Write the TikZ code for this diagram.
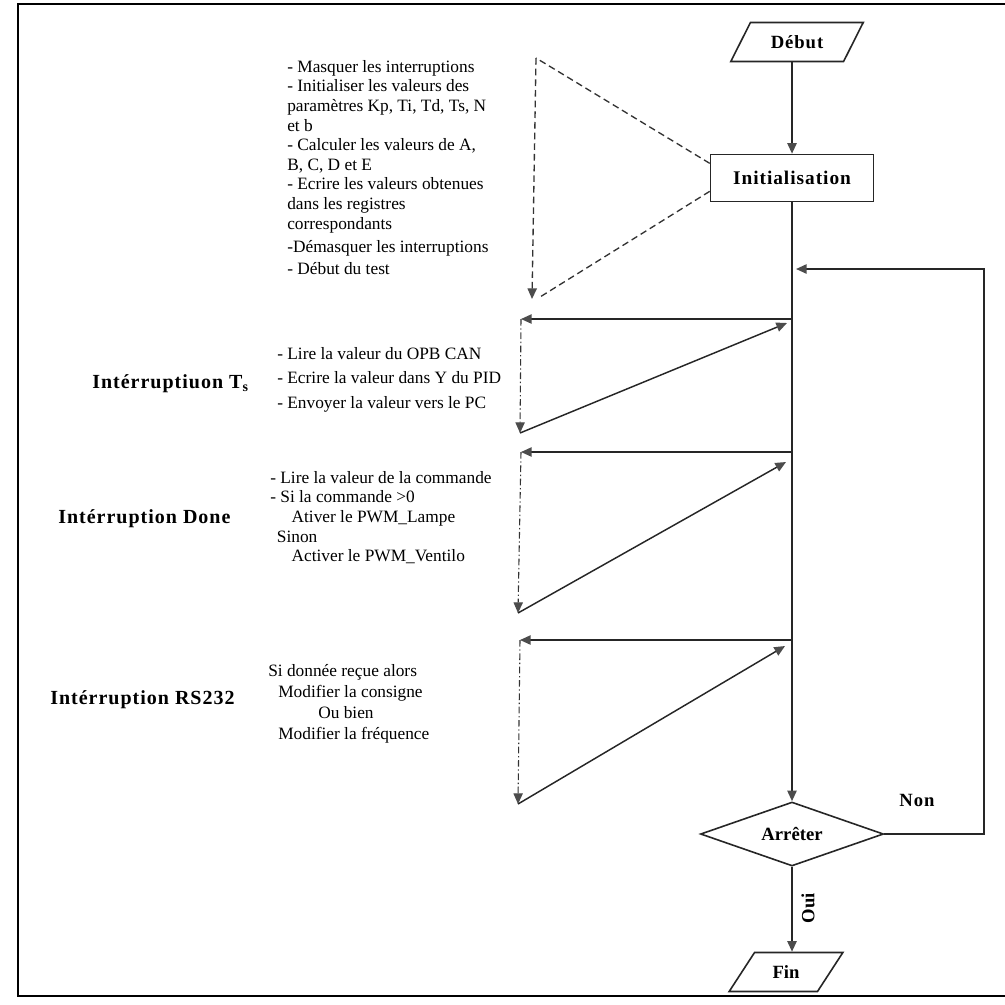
\documentclass[tikz,border=0pt]{standalone}
\usepackage{fontspec}
\setmainfont{Liberation Serif}
\newfontfamily\wideserif[LetterSpace=5]{Liberation Serif}
\usetikzlibrary{arrows.meta,shapes.geometric}
\begin{document}
\begin{tikzpicture}[x=0.75pt,y=-0.75pt,
  line/.style={line width=1.3pt, draw=black!85},
  thin/.style={line width=1.1pt, draw=black!85},
  tip/.style={-{Triangle[length=8pt,width=7pt,fill=black!70,color=black!70]}},
  calloutdash/.style={line width=1pt, draw=black!80, dash pattern=on 5pt off 3pt},
  dashdotline/.style={line width=0.8pt, draw=black!80, dash pattern=on 5pt off 2pt on 1pt off 2pt},
  io/.style={trapezium, trapezium left angle=50, trapezium right angle=130,
    trapezium stretches=true, draw=black!85, line width=1.2pt, inner sep=0pt,
    font=\fontsize{14}{16}\selectfont\bfseries},
  stepbox/.style={rectangle, draw=black!85, line width=1.2pt, inner sep=0pt,
    minimum width=122.25pt, minimum height=35.25pt,
    font=\wideserif\fontsize{14.5}{16}\selectfont\bfseries},
  decision/.style={diamond, draw=black!85, line width=1.2pt, inner sep=0pt, aspect=2.86,
    minimum width=137.25pt, minimum height=48pt, font=\fontsize{14}{16}\selectfont\bfseries},
  txt/.style={align=left, inner sep=0pt, anchor=north west, font=\fontsize{13}{14.7}\selectfont},
  lbl/.style={inner sep=0pt, anchor=west, font=\wideserif\fontsize{15}{17}\selectfont\bfseries},
  tag/.style={inner sep=0pt, font=\fontsize{14}{16}\selectfont\bfseries}
]
\useasboundingbox (0,0) rectangle (1005,1004);
\clip (0,0) rectangle (1005,1004);

% outer frame (open on the right)
\draw[line width=2pt, black] (1020,4) -- (18,4) -- (18,996) -- (1020,996);

% flowchart nodes
\node[io, minimum width=99.75pt, minimum height=29.25pt] (debut) at (797,42) {\wideserif Début};
\node[stepbox] (init) at (792,178) {Initialisation};
\node[decision] (stop) at (792,834) {Arrêter};
\node[io, minimum width=85.5pt, minimum height=29.25pt] (fin) at (786,972) {Fin};

% main flow
\draw[line,tip] (init.north |- debut.south) -- (init.north);
\draw[line,tip] (init.south) -- (stop.north);
\draw[line,tip] (stop.south) -- (stop.south |- fin.north);

% loop back when not stopping
\coordinate (loopR) at (984,269);
\coordinate (loopIn) at (796,269);
\draw[line,tip] (stop.east) -| (loopR) -- (loopIn);
\node[tag] (non) at (917,800) {\wideserif Non};
\node[tag, rotate=90] (oui) at (808,908) {Oui};

% initialisation callout
\coordinate (cTop) at (536,58);
\coordinate (cBot) at (532,299);
\coordinate (cBotR) at (540,297);
\draw[calloutdash] ([yshift=11pt]init.west) -- (cTop);
\draw[calloutdash,tip] (cTop) -- (cBot);
\draw[calloutdash] ([yshift=-10pt]init.west) -- (cBotR);

\node[txt] (initTxt) at (287,60) {%
- Masquer les interruptions\\
- Initialiser les valeurs des\\
paramètres Kp, Ti, Td, Ts, N\\
et b\\
- Calculer les valeurs de A,\\
B, C, D et E\\
- Ecrire les valeurs obtenues\\
dans les registres\\
correspondants\\[3pt]
-Démasquer les interruptions\\[2pt]
- Début du test};

% interruption Ts
\coordinate (tsA) at (792,319);
\coordinate (tsL) at (521,319);
\coordinate (tsB) at (520,433);
\coordinate (tsR) at (787,323);
\draw[thin,tip] (tsA) -- (tsL);
\draw[dashdotline,tip] (tsL) -- (tsB);
\draw[thin,tip] (tsB) -- (tsR);
\node[lbl] (tsLbl) at (92,384) {Intérruptiuon T\textsubscript{s}};
\node[txt, font=\fontsize{13}{18.5}\selectfont] (tsTxt) at (277,347) {%
- Lire la valeur du OPB CAN\\
- Ecrire la valeur dans Y du PID\\
- Envoyer la valeur vers le PC};

% interruption Done
\coordinate (doA) at (792,452);
\coordinate (doL) at (521,452);
\coordinate (doB) at (518,613);
\coordinate (doR) at (786,462);
\draw[thin,tip] (doA) -- (doL);
\draw[dashdotline,tip] (doL) -- (doB);
\draw[thin,tip] (doB) -- (doR);
\node[lbl] (doLbl) at (58,519) {Intérruption Done};
\node[txt] (doTxt) at (270,471) {%
- Lire la valeur de la commande\\
- Si la commande >0\\
\hspace*{16pt}Ativer le PWM\_Lampe\\
\hspace*{5pt}Sinon\\
\hspace*{16pt}Activer le PWM\_Ventilo};

% interruption RS232
\coordinate (rsA) at (792,640);
\coordinate (rsL) at (520,640);
\coordinate (rsB) at (518,804);
\coordinate (rsR) at (785,646);
\draw[thin,tip] (rsA) -- (rsL);
\draw[dashdotline,tip] (rsL) -- (rsB);
\draw[thin,tip] (rsB) -- (rsR);
\node[lbl] (rsLbl) at (50,700) {Intérruption RS232};
\node[txt, font=\fontsize{13}{15.7}\selectfont] (rsTxt) at (268,664) {%
Si donnée reçue alors\\
\hspace*{7.5pt}Modifier la consigne\\
\hspace*{37.5pt}Ou bien\\
\hspace*{7.5pt}Modifier la fréquence};
\end{tikzpicture}
\end{document}
